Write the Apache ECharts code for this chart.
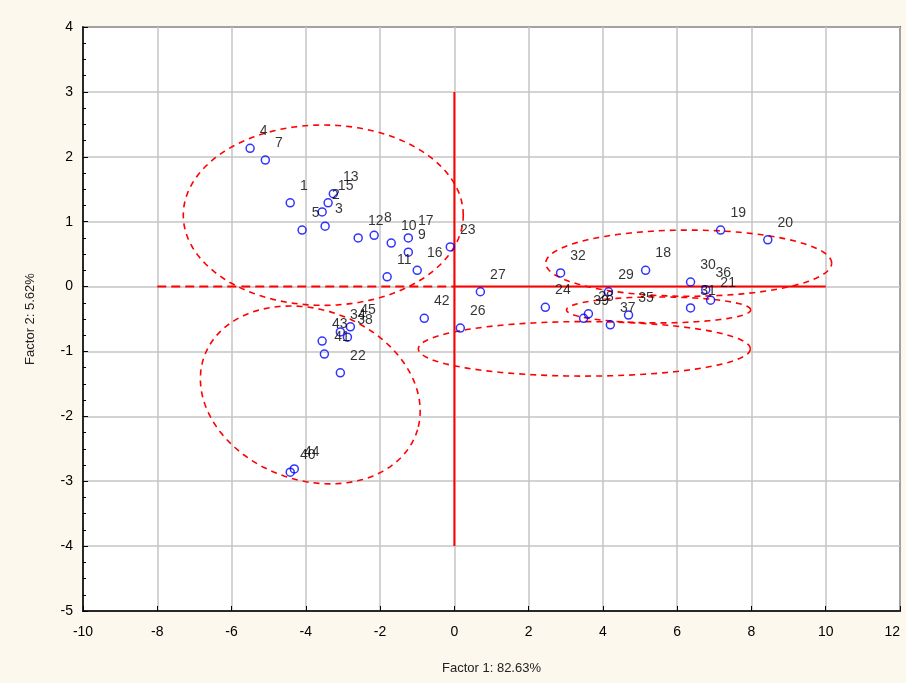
<!DOCTYPE html>
<html>
<head>
<meta charset="utf-8">
<title>Factor scores</title>
<script src="https://cdn.jsdelivr.net/npm/echarts@6/dist/echarts.min.js"></script>
<style>
  html, body { margin: 0; padding: 0; background: #fcf8ee; }
  #chart { width: 906px; height: 683px; }
</style>
</head>
<body>
<div id="chart"></div>
<script>
// Sample labels and their factor scores
const pointLabels = ['4','7','1','13','15','2','5','3','12','8','10','17','9','11','16','23',
  '42','27','26',
  '45','38','34','43','41','22','40','44',
  '32','24','39','28','29','37','35','18','19','20','30','36','21','31'];
const factor1 = [-5.50,-5.09,-4.42,-3.26,-3.40,-3.56,-4.10,-3.48,-2.59,-2.16,-1.70,-1.24,-1.24,-1.81,-1.00,-0.11,
  -0.81,0.70,0.16,
  -2.80,-2.88,-3.07,-3.56,-3.50,-3.07,-4.42,-4.31,
  2.86,2.45,3.48,3.61,4.15,4.20,4.69,5.15,7.17,8.44,6.36,6.77,6.90,6.36];
const factor2 = [2.13,1.95,1.29,1.43,1.29,1.15,0.87,0.93,0.75,0.79,0.67,0.75,0.53,0.15,0.25,0.61,
  -0.49,-0.08,-0.64,
  -0.62,-0.78,-0.70,-0.84,-1.04,-1.33,-2.86,-2.81,
  0.21,-0.32,-0.49,-0.42,-0.08,-0.59,-0.44,0.25,0.87,0.72,0.07,-0.05,-0.21,-0.33];

// Group ellipses: centre and two conjugate half-axis vectors (factor units)
const ellipseCx = [-3.53, -3.88, 6.31, 5.50, 3.50];
const ellipseCy = [1.10, -1.67, 0.36, -0.36, -0.96];
const ellipseUx = [3.77, 2.91, 3.85, 2.48, 4.47];
const ellipseUy = [0.00, -0.49, 0.00, 0.00, 0.00];
const ellipseVx = [0.00, 0.54, 0.00, 0.00, 0.00];
const ellipseVy = [1.39, 1.28, 0.51, 0.20, 0.42];

// Reference cross through the origin
const crossLeft = [[-8, 0], [0, 0]];
const crossRight = [[0, 0], [10, 0]];
const crossVertical = [[0, 3], [0, -4]];

// Axis ranges
const xRange = [-10, 12, 2];
const yRange = [-5, 4, 1];

const FONT = 'Liberation Sans, Arial, sans-serif';
const RED = '#ff0000';

const points = pointLabels.map((name, i) => ({ name: name, value: [factor1[i], factor2[i]] }));
const ellipses = ellipseCx.map((cx, i) => [cx, ellipseCy[i], ellipseUx[i], ellipseUy[i], ellipseVx[i], ellipseVy[i]]);

const chart = echarts.init(document.getElementById('chart'), null, { renderer: 'canvas' });

chart.setOption({
  backgroundColor: '#fcf8ee',
  animation: false,
  grid: {
    left: 83, right: 6, top: 27, bottom: 72,
    outerBoundsMode: 'none', containLabel: false,
    show: true, backgroundColor: '#ffffff', borderColor: '#000000', borderWidth: 1.5
  },
  xAxis: {
    type: 'value', min: xRange[0], max: xRange[1], interval: xRange[2],
    name: 'Factor 1: 82.63%', nameLocation: 'middle', nameGap: 51,
    nameTextStyle: { fontFamily: FONT, fontSize: 13, color: '#222' },
    axisLine: { show: true, onZero: false, lineStyle: { color: '#000', width: 1.5 } },
    axisTick: { show: true, inside: true, length: 5, lineStyle: { color: '#000' } },
    axisLabel: { fontFamily: FONT, fontSize: 14, color: '#000', margin: 14, alignMaxLabel: 'right' },
    splitLine: { show: true, lineStyle: { color: '#c4c4c4', width: 1.5 } }
  },
  yAxis: {
    type: 'value', min: yRange[0], max: yRange[1], interval: yRange[2],
    name: 'Factor 2: 5.62%', nameLocation: 'middle', nameGap: 46, nameRotate: 90,
    nameTextStyle: { fontFamily: FONT, fontSize: 13, color: '#222' },
    axisLine: { show: true, onZero: false, lineStyle: { color: '#000', width: 1.5 } },
    axisTick: { show: true, inside: true, length: 5, lineStyle: { color: '#000' } },
    minorTick: { show: true, splitNumber: 4, length: 3, lineStyle: { color: '#000' } },
    axisLabel: { fontFamily: FONT, fontSize: 14, color: '#000', margin: 10 },
    splitLine: { show: true, lineStyle: { color: '#c4c4c4', width: 1.5 } }
  },
  series: [
    {
      type: 'line', data: crossLeft, symbol: 'none', silent: true,
      lineStyle: { color: RED, width: 2, type: [9, 5] }, z: 3
    },
    {
      type: 'line', data: crossRight, symbol: 'none', silent: true,
      lineStyle: { color: RED, width: 2 }, z: 3
    },
    {
      type: 'line', data: crossVertical, symbol: 'none', silent: true,
      lineStyle: { color: RED, width: 2 }, z: 3
    },
    {
      type: 'custom', silent: true, clip: true, z: 3,
      encode: { x: 0, y: 1 },
      data: ellipses,
      renderItem: function (params, api) {
        const cx = api.value(0), cy = api.value(1);
        const ux = api.value(2), uy = api.value(3);
        const vx = api.value(4), vy = api.value(5);
        const n = 120;
        const pts = [];
        for (let k = 0; k <= n; k++) {
          const t = 2 * Math.PI * k / n;
          pts.push(api.coord([cx + ux * Math.cos(t) + vx * Math.sin(t),
                              cy + uy * Math.cos(t) + vy * Math.sin(t)]));
        }
        return {
          type: 'polyline',
          shape: { points: pts },
          style: { stroke: RED, lineWidth: 1.6, lineDash: [6, 5], fill: null }
        };
      }
    },
    {
      type: 'scatter', data: points, z: 5,
      symbol: 'circle', symbolSize: 8,
      itemStyle: { color: 'rgba(255,255,255,0)', borderColor: '#0000ff', borderWidth: 1.5 },
      label: {
        show: true, position: 'right', distance: 5, offset: [0, -17],
        formatter: '{b}', fontFamily: FONT, fontSize: 14, color: '#000'
      },
      emphasis: { disabled: true }
    }
  ]
});
</script>
</body>
</html>
